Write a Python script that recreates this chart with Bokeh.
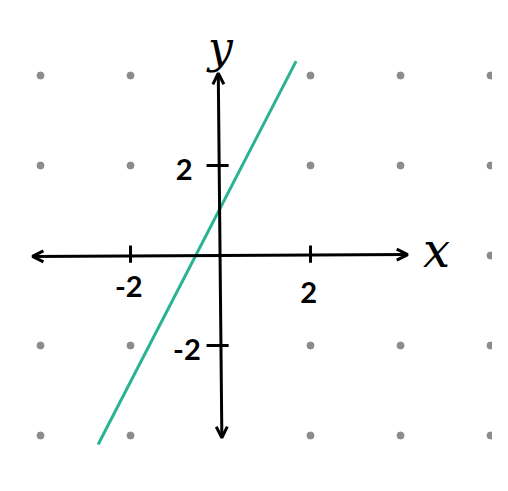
from bokeh.plotting import figure
from bokeh.models import Arrow, OpenHead
from bokeh.core.properties import value
from bokeh.embed import file_html
from bokeh.resources import INLINE

# --- data ---
grid_x = [-4, -2, 0, 2, 4, 6]
grid_y = [-4, -2, 0, 2, 4]
line_x = [-2.72, 1.68]
line_y = [-4.2, 4.32]
xtick_vals = [-2, 2]
xtick_labels = ["-2", "2"]
ytick_vals = [2, -2]
ytick_labels = ["2", "-2"]
axis_x_label = "x"
axis_y_label = "y"

p = figure(width=492, height=475, x_range=(-4.889, 6.044), y_range=(-4.889, 5.667),
           output_backend="svg", toolbar_location=None, min_border=0)
p.axis.visible = False
p.grid.visible = False
p.outline_line_color = None
p.background_fill_color = "white"

# dot grid (skip dots hidden under the axes)
dx, dy = [], []
for gx in grid_x:
    for gy in grid_y:
        if gx == 0 or (gy == 0 and abs(gx) <= 4):
            continue
        dx.append(gx)
        dy.append(gy)
p.scatter(dx, dy, size=7, color="#8c8c8c")

# axes with open arrowheads
p.add_layout(Arrow(start=OpenHead(size=11, line_width=3, line_color="black"),
                   end=OpenHead(size=11, line_width=3, line_color="black"),
                   x_start=-4.18, y_start=-0.02, x_end=4.16, y_end=0.02,
                   line_width=3, line_color="black"))
p.add_layout(Arrow(start=OpenHead(size=11, line_width=3, line_color="black"),
                   end=OpenHead(size=11, line_width=3, line_color="black"),
                   x_start=0.03, y_start=-4.05, x_end=-0.05, y_end=4.05,
                   line_width=3, line_color="black"))

# tick marks
p.segment(x0=xtick_vals, y0=[-0.16] * len(xtick_vals), x1=xtick_vals, y1=[0.22] * len(xtick_vals),
          line_width=3, line_color="black")
p.segment(x0=[-0.31] * len(ytick_vals), y0=ytick_vals, x1=[0.18] * len(ytick_vals), y1=ytick_vals,
          line_width=3, line_color="black")

# tick labels
p.text(x=[v - 0.04 for v in xtick_vals], y=[-0.68, -0.82], text=xtick_labels,
       text_align="center", text_baseline="middle", text_font_size="29px",
       text_font=value("Lato"), text_font_style="bold", text_color="black")
p.text(x=[-0.62, -0.44], y=[v - 0.08 for v in ytick_vals], text=ytick_labels,
       text_align="right", text_baseline="middle", text_font_size="29px",
       text_font=value("Lato"), text_font_style="bold", text_color="black")

# axis names
p.text(x=[4.8], y=[0.12], text=[axis_x_label], text_align="center", text_baseline="middle",
       text_font_size="48px", text_font=value("DejaVu Serif"), text_font_style="italic",
       text_color="black")
p.text(x=[0.0], y=[4.62], text=[axis_y_label], text_align="center", text_baseline="middle",
       text_font_size="44px", text_font=value("DejaVu Serif"), text_font_style="italic",
       text_color="black")

# the line
p.line(line_x, line_y, line_width=3, line_color="#2ab393")

open("out.html", "w").write(file_html(p, INLINE))
